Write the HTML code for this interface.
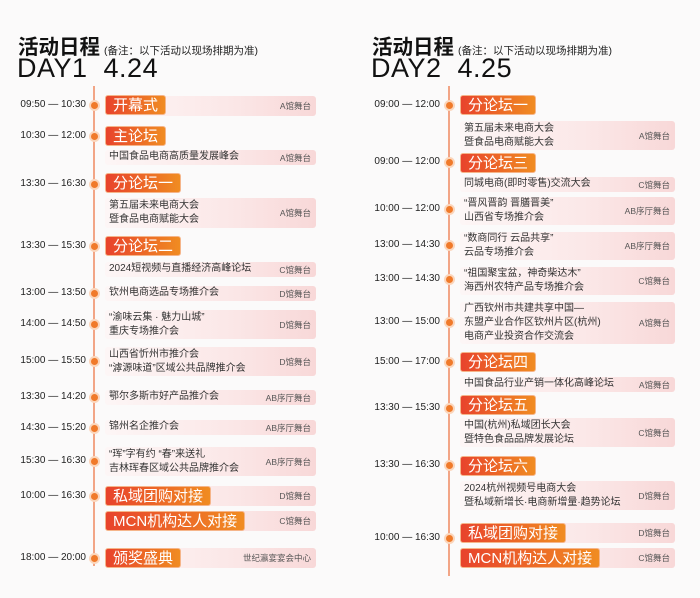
<!DOCTYPE html>
<html><head><meta charset="utf-8"><style>
body{margin:0;width:700px;height:598px;background:#fbfafa;position:relative;overflow:hidden;font-family:"Liberation Sans","Noto Sans CJK SC",sans-serif;color:#333}
div{position:absolute;box-sizing:border-box}
.h{font-size:20.5px;font-weight:bold;color:#111;white-space:nowrap}
.h span{font-size:10.5px;font-weight:normal;color:#222;margin-left:4px}
.dy{font-size:27px;color:#111;letter-spacing:0.5px;white-space:nowrap}
.ln{width:1.5px;background:#f2a586}
.t{width:70px;text-align:right;font-size:10px;line-height:14px;color:#222;white-space:nowrap}
.d{width:7px;height:7px;border-radius:50%;background:#f07a2a;box-shadow:0 0 0 2px #fbd6bc}
.x{background:linear-gradient(90deg,#fdf6f6 0%,#fbe7e7 60%,#f8d8d8 100%);border-radius:3px;font-size:10px;line-height:14px;padding:0 0 0 4px;color:#333;white-space:nowrap}
.x i{font-style:normal;position:absolute;right:5px;top:50%;transform:translateY(-50%);font-size:8.5px;color:#555}
.b{height:20px;border-radius:3px;background:linear-gradient(90deg,#e8432c,#f08c22);color:#fff;font-size:15px;line-height:20px;padding:0 7px;white-space:nowrap;border:1px solid #f5b58a}
</style></head><body>
<div class="h" style="left:18px;top:30px">活动日程<span>(备注：以下活动以现场排期为准)</span></div>
<div class="dy" style="left:17px;top:53px">DAY1&nbsp;&nbsp;4.24</div>
<div class="h" style="left:372px;top:30px">活动日程<span>(备注：以下活动以现场排期为准)</span></div>
<div class="dy" style="left:371px;top:53px">DAY2&nbsp;&nbsp;4.25</div>

<div class="ln" style="left:93px;top:86px;height:480px"></div>
<div class="ln" style="left:448px;top:86px;height:490px"></div>

<!-- LEFT -->
<div class="t" style="left:16px;top:98px">09:50 — 10:30</div><div class="d" style="left:91px;top:102px"></div>
<div class="x" style="left:105px;top:96px;width:211px;height:20px"><i>A馆舞台</i></div>
<div class="b" style="left:105px;top:95px">开幕式</div>

<div class="t" style="left:16px;top:129px">10:30 — 12:00</div><div class="d" style="left:91px;top:133px"></div>
<div class="b" style="left:105px;top:126px">主论坛</div>
<div class="x" style="left:105px;top:150px;width:211px;height:15px">中国食品电商高质量发展峰会<i>A馆舞台</i></div>

<div class="t" style="left:16px;top:177px">13:30 — 16:30</div><div class="d" style="left:91px;top:181px"></div>
<div class="b" style="left:105px;top:173px">分论坛一</div>
<div class="x" style="left:105px;top:198px;width:211px;height:30px;padding-top:1px">第五届未来电商大会<br>暨食品电商赋能大会<i>A馆舞台</i></div>

<div class="t" style="left:16px;top:239px">13:30 — 15:30</div><div class="d" style="left:91px;top:243px"></div>
<div class="b" style="left:105px;top:236px">分论坛二</div>
<div class="x" style="left:105px;top:262px;width:211px;height:15px">2024短视频与直播经济高峰论坛<i>C馆舞台</i></div>

<div class="t" style="left:16px;top:286px">13:00 — 13:50</div><div class="d" style="left:91px;top:290px"></div>
<div class="x" style="left:105px;top:286px;width:211px;height:15px">钦州电商选品专场推介会<i>D馆舞台</i></div>

<div class="t" style="left:16px;top:317px">14:00 — 14:50</div><div class="d" style="left:91px;top:321px"></div>
<div class="x" style="left:105px;top:310px;width:211px;height:29px;padding-top:1px">“渝味云集 · 魅力山城”<br>重庆专场推介会<i>D馆舞台</i></div>

<div class="t" style="left:16px;top:354px">15:00 — 15:50</div><div class="d" style="left:91px;top:358px"></div>
<div class="x" style="left:105px;top:347px;width:211px;height:29px;padding-top:1px">山西省忻州市推介会<br>“滹源味道”区域公共品牌推介会<i>D馆舞台</i></div>

<div class="t" style="left:16px;top:390px">13:30 — 14:20</div><div class="d" style="left:91px;top:394px"></div>
<div class="x" style="left:105px;top:390px;width:211px;height:15px">鄂尔多斯市好产品推介会<i>AB序厅舞台</i></div>

<div class="t" style="left:16px;top:421px">14:30 — 15:20</div><div class="d" style="left:91px;top:425px"></div>
<div class="x" style="left:105px;top:420px;width:211px;height:15px">锦州名企推介会<i>AB序厅舞台</i></div>

<div class="t" style="left:16px;top:454px">15:30 — 16:30</div><div class="d" style="left:91px;top:458px"></div>
<div class="x" style="left:105px;top:447px;width:211px;height:29px;padding-top:1px">“珲”字有约 “春”来送礼<br>吉林珲春区域公共品牌推介会<i>AB序厅舞台</i></div>

<div class="t" style="left:16px;top:489px">10:00 — 16:30</div><div class="d" style="left:91px;top:493px"></div>
<div class="x" style="left:105px;top:486px;width:211px;height:20px"><i>D馆舞台</i></div>
<div class="b" style="left:105px;top:486px">私域团购对接</div>
<div class="x" style="left:105px;top:511px;width:211px;height:20px"><i>C馆舞台</i></div>
<div class="b" style="left:105px;top:511px">MCN机构达人对接</div>

<div class="t" style="left:16px;top:551px">18:00 — 20:00</div><div class="d" style="left:91px;top:555px"></div>
<div class="x" style="left:105px;top:548px;width:211px;height:20px"><i>世纪瀛宴宴会中心</i></div>
<div class="b" style="left:105px;top:548px">颁奖盛典</div>

<!-- RIGHT -->
<div class="t" style="left:370px;top:98px">09:00 — 12:00</div><div class="d" style="left:446px;top:102px"></div>
<div class="b" style="left:460px;top:95px">分论坛一</div>
<div class="x" style="left:460px;top:121px;width:215px;height:29px;padding-top:1px">第五届未来电商大会<br>暨食品电商赋能大会<i>A馆舞台</i></div>

<div class="t" style="left:370px;top:155px">09:00 — 12:00</div><div class="d" style="left:446px;top:159px"></div>
<div class="b" style="left:460px;top:153px">分论坛三</div>
<div class="x" style="left:460px;top:177px;width:215px;height:15px">同城电商(即时零售)交流大会<i>C馆舞台</i></div>

<div class="t" style="left:370px;top:202px">10:00 — 12:00</div><div class="d" style="left:446px;top:206px"></div>
<div class="x" style="left:460px;top:197px;width:215px;height:28px;padding-top:0px">“晋风晋韵 晋膳晋美”<br>山西省专场推介会<i>AB序厅舞台</i></div>

<div class="t" style="left:370px;top:238px">13:00 — 14:30</div><div class="d" style="left:446px;top:242px"></div>
<div class="x" style="left:460px;top:232px;width:215px;height:28px">“数商同行 云品共享”<br>云品专场推介会<i>AB序厅舞台</i></div>

<div class="t" style="left:370px;top:272px">13:00 — 14:30</div><div class="d" style="left:446px;top:276px"></div>
<div class="x" style="left:460px;top:267px;width:215px;height:28px">“祖国聚宝盆，神奇柴达木”<br>海西州农特产品专场推介会<i>C馆舞台</i></div>

<div class="t" style="left:370px;top:315px">13:00 — 15:00</div><div class="d" style="left:446px;top:319px"></div>
<div class="x" style="left:460px;top:302px;width:215px;height:42px;padding-top:0px">广西钦州市共建共享中国—<br>东盟产业合作区钦州片区(杭州)<br>电商产业投资合作交流会<i>A馆舞台</i></div>

<div class="t" style="left:370px;top:355px">15:00 — 17:00</div><div class="d" style="left:446px;top:359px"></div>
<div class="b" style="left:460px;top:352px">分论坛四</div>
<div class="x" style="left:460px;top:377px;width:215px;height:15px">中国食品行业产销一体化高峰论坛<i>A馆舞台</i></div>

<div class="t" style="left:370px;top:401px">13:30 — 15:30</div><div class="d" style="left:446px;top:405px"></div>
<div class="b" style="left:460px;top:395px">分论坛五</div>
<div class="x" style="left:460px;top:418px;width:215px;height:29px;padding-top:1px">中国(杭州)私域团长大会<br>暨特色食品品牌发展论坛<i>C馆舞台</i></div>

<div class="t" style="left:370px;top:458px">13:30 — 16:30</div><div class="d" style="left:446px;top:462px"></div>
<div class="b" style="left:460px;top:456px">分论坛六</div>
<div class="x" style="left:460px;top:481px;width:215px;height:29px;padding-top:1px">2024杭州视频号电商大会<br>暨私域新增长·电商新增量·趋势论坛<i>D馆舞台</i></div>

<div class="t" style="left:370px;top:531px">10:00 — 16:30</div><div class="d" style="left:446px;top:535px"></div>
<div class="x" style="left:460px;top:523px;width:215px;height:20px"><i>D馆舞台</i></div>
<div class="b" style="left:460px;top:523px">私域团购对接</div>
<div class="x" style="left:460px;top:548px;width:215px;height:20px"><i>C馆舞台</i></div>
<div class="b" style="left:460px;top:548px">MCN机构达人对接</div>
</body></html>
